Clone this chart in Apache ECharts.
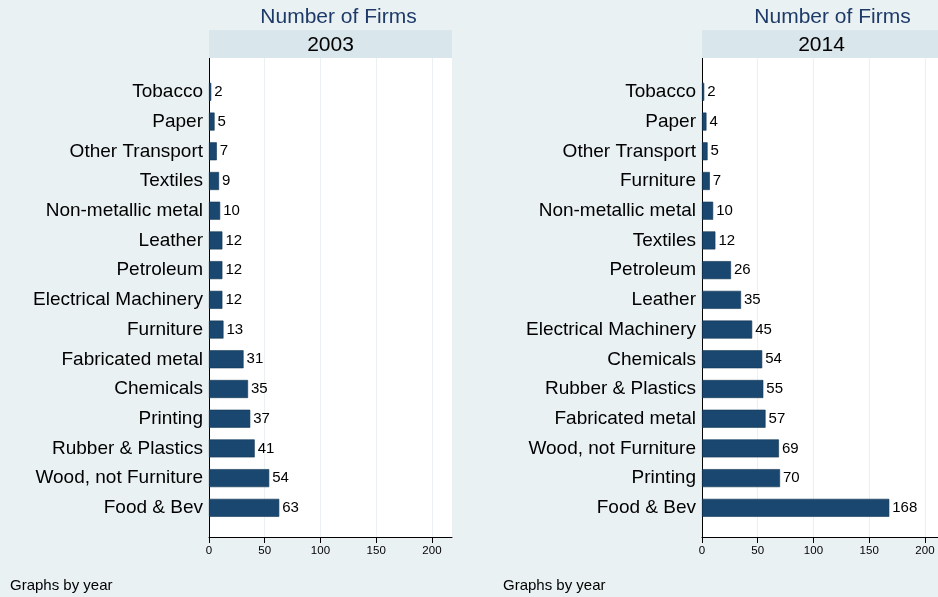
<!DOCTYPE html>
<html>
<head>
<meta charset="utf-8">
<script src="https://cdn.jsdelivr.net/npm/echarts@6/dist/echarts.min.js"></script>
<style>html,body{margin:0;padding:0;background:#eaf1f3;}#c{width:938px;height:597px;}</style>
</head>
<body>
<div id="c"></div>
<script>
const cats2003 = ["Tobacco","Paper","Other Transport","Textiles","Non-metallic metal","Leather","Petroleum","Electrical Machinery","Furniture","Fabricated metal","Chemicals","Printing","Rubber & Plastics","Wood, not Furniture","Food & Bev"];
const vals2003 = [2,5,7,9,10,12,12,12,13,31,35,37,41,54,63];
const cats2014 = ["Tobacco","Paper","Other Transport","Furniture","Non-metallic metal","Textiles","Petroleum","Leather","Electrical Machinery","Chemicals","Rubber & Plastics","Fabricated metal","Wood, not Furniture","Printing","Food & Bev"];
const vals2014 = [2,4,5,7,10,12,26,35,45,54,55,57,69,70,168];
const xTicks = [0,50,100,150,200];
const years = ["2003","2014"];
const yTitle = "Number of Firms";
const note = "Graphs by year";

const FONT = '"Liberation Sans", Arial, sans-serif';
const BAR = '#1a476f';
const PXU = 243 / 218; // pixels per unit
const panels = [
  {left:209, width:243, cats:cats2003, vals:vals2003, yearX:330.5, titleX:338.5, noteX:10},
  {left:702, width:236, cats:cats2014, vals:vals2014, yearX:821.5, titleX:832.5, noteX:503}
];

const grid = [], xAxis = [], yAxis = [], series = [], graphic = [], title = [];
panels.forEach((p, i) => {
  const xmax = p.width / PXU;
  grid.push({left:p.left, top:58, width:p.width, height:479, show:true, backgroundColor:'#ffffff', borderWidth:0});
  grid.push({left:p.left, top:77, width:p.width, height:445.7, show:false});
  const gA = 2*i, gB = 2*i+1;
  xAxis.push({gridIndex:gA, type:'value', min:0, max:xmax, interval:50, position:'bottom',
    axisLine:{show:true, onZero:false, lineStyle:{color:'#000', width:1}},
    axisTick:{show:true, length:6, lineStyle:{color:'#000'}, customValues:xTicks},
    axisLabel:{show:true, fontFamily:FONT, fontSize:11.5, color:'#000', margin:8, customValues:xTicks},
    splitLine:{show:true, lineStyle:{color:'#eaf1f3', width:1}}});
  yAxis.push({gridIndex:gA, type:'value', min:0, max:1,
    axisLine:{show:true, lineStyle:{color:'#000', width:1}}, axisTick:{show:false}, axisLabel:{show:false}, splitLine:{show:false}});
  xAxis.push({gridIndex:gB, type:'value', min:0, max:xmax, show:false});
  yAxis.push({gridIndex:gB, type:'category', data:p.cats, inverse:true,
    axisLine:{show:false}, axisTick:{show:false},
    axisLabel:{fontFamily:FONT, fontSize:19, color:'#000', margin:6}});
  series.push({type:'bar', xAxisIndex:gB, yAxisIndex:gB, data:p.vals, barWidth:18,
    itemStyle:{color:BAR, borderColor:'#133553', borderWidth:0.6},
    label:{show:true, position:'right', distance:3, fontFamily:FONT, fontSize:15, color:'#000'},
    silent:true});
  graphic.push({type:'rect', shape:{x:p.left, y:30, width:p.width, height:28}, style:{fill:'#d9e6eb'}, z:1});
  title.push({text:years[i], left:p.yearX, top:34.5, padding:0, textAlign:'center',
    textStyle:{fontFamily:FONT, fontSize:21, fontWeight:'normal', color:'#000'}});
  title.push({text:yTitle, left:p.titleX, top:6.5, padding:0, textAlign:'center',
    textStyle:{fontFamily:FONT, fontSize:21, fontWeight:'normal', color:'#1e3a68'}});
  title.push({text:note, left:p.noteX, top:578.5, padding:0,
    textStyle:{fontFamily:FONT, fontSize:15, fontWeight:'normal', color:'#000'}});
});

const chart = echarts.init(document.getElementById('c'), null, {renderer:'canvas'});
chart.setOption({backgroundColor:'#eaf1f3', animation:false, title, grid, xAxis, yAxis, series, graphic});
</script>
</body>
</html>
